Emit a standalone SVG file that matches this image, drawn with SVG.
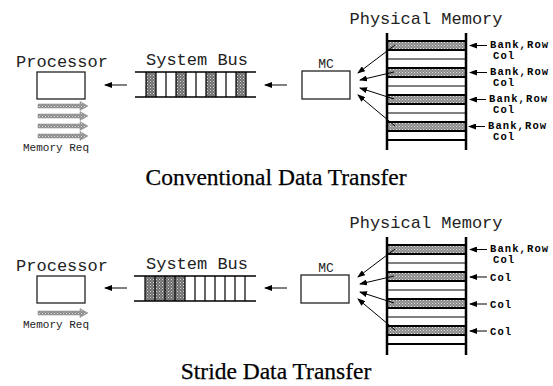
<svg xmlns="http://www.w3.org/2000/svg" width="553" height="386" viewBox="0 0 553 386">
<defs>
<pattern id="dots" width="3" height="3" patternUnits="userSpaceOnUse">
<rect width="3" height="3" fill="#8a8a8a"/>
<rect x="0" y="0" width="1" height="1" fill="#e0e0e0"/>
<rect x="1.5" y="1.5" width="1" height="1" fill="#d0d0d0"/>
</pattern>
<pattern id="dotsDark" width="3" height="3" patternUnits="userSpaceOnUse">
<rect width="3" height="3" fill="#6e6e6e"/>
<rect x="0" y="0" width="1" height="1" fill="#d8d8d8"/>
<rect x="1.5" y="1.5" width="1" height="1" fill="#bbbbbb"/>
</pattern>
<marker id="ah" markerWidth="8" markerHeight="6" refX="7" refY="3" orient="auto" markerUnits="userSpaceOnUse">
<path d="M0,0 L8,3 L0,6 Z" fill="#000"/>
</marker>
<g id="req">
<path d="M38,-2 H80 V-4.5 L88,0 L80,4.5 V2 H38 Z" fill="url(#dots)" stroke="#999" stroke-width="0.6"/>
</g>
</defs>
<style>
.mono{font-family:"Liberation Mono","DejaVu Sans Mono",monospace;fill:#222}
.lbl{font-family:"Liberation Mono","DejaVu Sans Mono",monospace;font-weight:bold;font-size:10.5px;letter-spacing:1.1px;fill:#000}
.title{font-family:"Liberation Serif","DejaVu Serif",serif;font-size:23.5px;fill:#000;stroke:#000;stroke-width:0.25}
.box{fill:#fff;stroke:#222;stroke-width:1.3}
.line{stroke:#000;fill:none}
.conn{stroke:#000;stroke-width:1;fill:none;marker-end:url(#ah)}
</style>

<!-- ============ TOP: Conventional ============ -->
<g id="processor1">
<text class="mono" x="62" y="67" font-size="17" text-anchor="middle">Processor</text>
<rect class="box" x="37" y="72" width="48" height="27"/>
<use href="#req" y="106"/>
<use href="#req" y="116"/>
<use href="#req" y="126"/>
<use href="#req" y="136"/>
<text class="mono" x="56" y="151" font-size="11" text-anchor="middle">Memory Req</text>
</g>

<g id="bus1">
<text class="mono" x="197" y="65" font-size="17" text-anchor="middle">System Bus</text>
<rect x="146" y="72" width="10" height="25" fill="url(#dotsDark)"/>
<rect x="176" y="72" width="10" height="25" fill="url(#dotsDark)"/>
<rect x="206" y="72" width="10" height="25" fill="url(#dotsDark)"/>
<rect x="236" y="72" width="10" height="25" fill="url(#dotsDark)"/>
<path class="line" stroke-width="1.2" d="M146,72V97M156,72V97M166,72V97M176,72V97M186,72V97M196,72V97M206,72V97M216,72V97M226,72V97M236,72V97M246,72V97"/>
<path class="line" stroke-width="1.6" d="M135,72H256M135,97H256"/>
</g>

<g id="mc1">
<text class="mono" x="326" y="68" font-size="13" text-anchor="middle">MC</text>
<rect class="box" x="302" y="71" width="48" height="28"/>
</g>

<g id="memory1">
<text class="mono" x="426" y="24" font-size="17" text-anchor="middle">Physical Memory</text>
<rect x="387" y="41" width="79" height="9" fill="url(#dots)"/>
<rect x="387" y="68" width="79" height="9" fill="url(#dots)"/>
<rect x="387" y="95" width="79" height="9" fill="url(#dots)"/>
<rect x="387" y="122" width="79" height="9" fill="url(#dots)"/>
<path class="line" stroke-width="2" d="M387,41H466M387,50H466M387,68H466M387,77H466M387,95H466M387,104H466M387,122H466M387,131H466M387,140H466"/>
<path class="line" stroke-width="1" d="M387,59H466M387,86H466M387,113H466"/>
<path class="line" stroke-width="2.5" d="M387,33V150M466,33V150"/>
<text class="lbl" x="490" y="48">Bank,Row</text>
<text class="lbl" x="493" y="58.5">Col</text>
<text class="lbl" x="490" y="75">Bank,Row</text>
<text class="lbl" x="493" y="85.5">Col</text>
<text class="lbl" x="489" y="102">Bank,Row</text>
<text class="lbl" x="493" y="112.5">Col</text>
<text class="lbl" x="488" y="129">Bank,Row</text>
<text class="lbl" x="493" y="139.5">Col</text>
</g>

<g id="title1">
<text class="title" x="276" y="185" text-anchor="middle">Conventional Data Transfer</text>
</g>

<g id="connectors1">
<line class="conn" x1="127" y1="85" x2="105" y2="85"/>
<line class="conn" x1="287" y1="85" x2="265" y2="85"/>
<line class="conn" x1="395" y1="45" x2="358" y2="73"/>
<line class="conn" x1="394" y1="72" x2="360" y2="80"/>
<line class="conn" x1="394" y1="99" x2="360" y2="88"/>
<line class="conn" x1="395" y1="126" x2="358" y2="95"/>
<line class="conn" x1="487" y1="45.5" x2="470" y2="45.5"/>
<line class="conn" x1="487" y1="72.5" x2="470" y2="72.5"/>
<line class="conn" x1="486" y1="99.5" x2="470" y2="99.5"/>
<line class="conn" x1="485" y1="126.5" x2="469" y2="126.5"/>
</g>

<!-- ============ BOTTOM: Stride ============ -->
<g id="processor2">
<text class="mono" x="62" y="271" font-size="17" text-anchor="middle">Processor</text>
<rect class="box" x="37" y="276" width="48" height="27"/>
<use href="#req" y="313"/>
<text class="mono" x="56" y="328" font-size="11" text-anchor="middle">Memory Req</text>
</g>

<g id="bus2">
<text class="mono" x="197" y="269" font-size="17" text-anchor="middle">System Bus</text>
<rect x="145" y="276" width="40" height="25" fill="url(#dotsDark)"/>
<path class="line" stroke-width="1.2" d="M145,276V301M155,276V301M165,276V301M175,276V301M185,276V301M195,276V301M205,276V301M215,276V301M225,276V301M235,276V301M245,276V301"/>
<path class="line" stroke-width="1.6" d="M134,276H256M134,301H256"/>
</g>

<g id="mc2">
<text class="mono" x="326" y="272" font-size="13" text-anchor="middle">MC</text>
<rect class="box" x="301" y="275" width="48" height="28"/>
</g>

<g id="memory2">
<text class="mono" x="426" y="228" font-size="17" text-anchor="middle">Physical Memory</text>
<rect x="387" y="245" width="79" height="9" fill="url(#dots)"/>
<rect x="387" y="272" width="79" height="9" fill="url(#dots)"/>
<rect x="387" y="299" width="79" height="9" fill="url(#dots)"/>
<rect x="387" y="326" width="79" height="9" fill="url(#dots)"/>
<path class="line" stroke-width="2" d="M387,245H466M387,254H466M387,272H466M387,281H466M387,299H466M387,308H466M387,326H466M387,335H466M387,344H466"/>
<path class="line" stroke-width="1" d="M387,263H466M387,290H466M387,317H466"/>
<path class="line" stroke-width="2.5" d="M387,237V355M466,237V355"/>
<text class="lbl" x="490" y="252">Bank,Row</text>
<text class="lbl" x="493" y="262.5">Col</text>
<text class="lbl" x="490" y="281">Col</text>
<text class="lbl" x="490" y="308">Col</text>
<text class="lbl" x="490" y="335">Col</text>
</g>

<g id="title2">
<text class="title" x="276" y="379" text-anchor="middle">Stride Data Transfer</text>
</g>

<g id="connectors2">
<line class="conn" x1="127" y1="288" x2="105" y2="288"/>
<line class="conn" x1="287" y1="288" x2="265" y2="288"/>
<line class="conn" x1="395" y1="249" x2="358" y2="277"/>
<line class="conn" x1="394" y1="276" x2="360" y2="284"/>
<line class="conn" x1="394" y1="303" x2="360" y2="292"/>
<line class="conn" x1="395" y1="330" x2="358" y2="299"/>
<line class="conn" x1="487" y1="249.5" x2="470" y2="249.5"/>
<line class="conn" x1="487" y1="277" x2="470" y2="277"/>
<line class="conn" x1="487" y1="304" x2="470" y2="304"/>
<line class="conn" x1="487" y1="331" x2="470" y2="331"/>
</g>
</svg>
